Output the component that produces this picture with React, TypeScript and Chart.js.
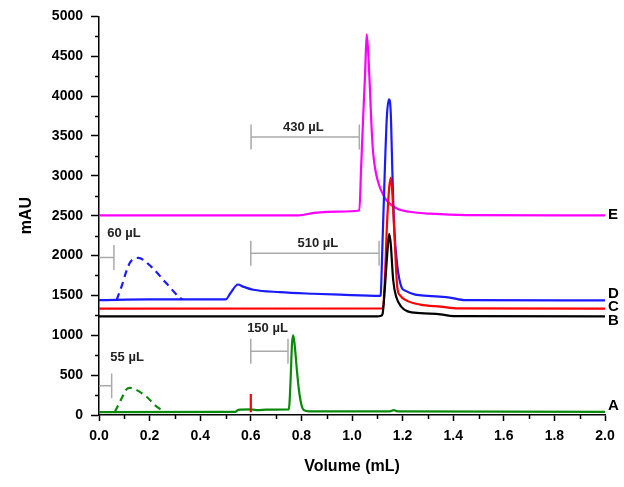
import React, { useEffect, useRef } from 'react';
import { Chart, registerables } from 'chart.js';
Chart.register(...registerables);

// Curve A (green, solid) and its dashed sample peak
const volA = [0, 0.54, 0.55, 0.6, 0.63, 0.66, 0.75, 0.753, 0.758, 0.763, 0.768, 0.774, 0.782, 0.79, 0.8, 0.81, 0.83, 1.15, 1.165, 1.18, 2.0];
const mauA = [35, 40, 65, 70, 60, 68, 70, 150, 500, 900, 1000, 860, 570, 320, 130, 60, 45, 45, 60, 45, 40];
const volAdash = [0.063, 0.09, 0.105, 0.12, 0.149, 0.188, 0.228, 0.255];
const mauAdash = [40, 212, 310, 340, 312, 229, 104, 50];
// Curve B (black)
const volB = [0, 1.1, 1.115, 1.121, 1.13, 1.14, 1.147, 1.153, 1.163, 1.175, 1.196, 1.22, 1.27, 1.35, 1.4, 2.0];
const mauB = [1237, 1237, 1245, 1270, 1600, 2050, 2271, 2150, 1687, 1480, 1354, 1300, 1279, 1262, 1240, 1237];
// Curve C (red)
const volC = [0, 1.122, 1.13, 1.137, 1.147, 1.154, 1.16, 1.167, 1.179, 1.19, 1.216, 1.27, 1.35, 1.42, 2.0];
const mauC = [1334, 1336, 1700, 2300, 2850, 2979, 2750, 2312, 1604, 1500, 1435, 1385, 1360, 1337, 1334];
// Curve D (blue, solid) and its dashed sample peak
const volD = [0, 0.2, 0.5, 0.52, 0.549, 0.57, 0.61, 0.715, 0.846, 0.953, 1.11, 1.113, 1.12, 1.13, 1.138, 1.146, 1.153, 1.16, 1.167, 1.178, 1.196, 1.21, 1.25, 1.3, 1.38, 1.45, 2.0];
const mauD = [1440, 1450, 1450, 1530, 1637, 1610, 1571, 1541, 1521, 1509, 1495, 1500, 2100, 3100, 3750, 3959, 3800, 3000, 2350, 1900, 1600, 1560, 1510, 1495, 1475, 1440, 1437];
const volDdash = [0.07, 0.09, 0.109, 0.123, 0.155, 0.208, 0.268, 0.32, 0.33];
const mauDdash = [1445, 1620, 1810, 1915, 1970, 1855, 1645, 1470, 1450];
// Curve E (magenta)
const volE = [0, 0.79, 0.85, 0.95, 1.029, 1.036, 1.045, 1.052, 1.058, 1.064, 1.07, 1.076, 1.082, 1.09, 1.1, 1.111, 1.124, 1.137, 1.177, 1.25, 1.308, 1.45, 2.0];
const mauE = [2505, 2505, 2535, 2552, 2565, 3100, 3800, 4300, 4775, 4550, 4150, 3700, 3350, 3120, 2960, 2850, 2760, 2690, 2590, 2540, 2525, 2508, 2505];
// Red injection marker
const markerVol = [0.6, 0.6];
const markerMau = [35, 262];

// Dimension brackets
const bracketText = ['430 µL', '510 µL', '60 µL', '55 µL', '150 µL'];
const bracketStart = [0.601, 0.6, 0, 0, 0.6];
const bracketEnd = [1.029, 1.107, 0.059, 0.05, 0.747];
const bracketLevel = [3487, 2029, 1975, 366, 800];
const bracketStartCap = [true, true, false, false, true];
const bracketCap = 156;
const bracketTextVol = [0.808, 0.865, 0.099, 0.111, 0.666];
const bracketTextMau = [3612, 2156, 2275, 725, 1087];

// Curve names at the right
const curveNames = ['E', 'D', 'C', 'B', 'A'];
const curveNameMau = [2510, 1525, 1362, 1175, 112];

// Axis ticks
const xMinorTicks = [0.1, 0.3, 0.5, 0.7, 0.9, 1.1, 1.3, 1.5, 1.7, 1.9];
const yMinorTicks = [250, 750, 1250, 1750, 2250, 2750, 3250, 3750, 4250, 4750];

const pts = (xs: number[], ys: number[]) => xs.map((x, i) => ({ x, y: ys[i] }));

const FONT = '"Liberation Sans", Arial, sans-serif';

const overlay = {
  id: 'overlay',
  afterDraw(chart: any) {
    const c = chart.ctx;
    const xs = chart.scales.x;
    const ys = chart.scales.y;
    const area = chart.chartArea;
    c.save();
    // minor ticks
    c.strokeStyle = '#000';
    c.lineWidth = 1.5;
    c.beginPath();
    xMinorTicks.forEach((v) => {
      const px = Math.round(xs.getPixelForValue(v)) + 0.5;
      c.moveTo(px, area.bottom);
      c.lineTo(px, area.bottom + 4);
    });
    yMinorTicks.forEach((v) => {
      const py = Math.round(ys.getPixelForValue(v)) + 0.5;
      c.moveTo(area.left - 4, py);
      c.lineTo(area.left, py);
    });
    c.stroke();
    // brackets
    c.strokeStyle = '#aaaaaa';
    c.lineWidth = 1.5;
    bracketText.forEach((t, i) => {
      const x0 = xs.getPixelForValue(bracketStart[i]);
      const x1 = xs.getPixelForValue(bracketEnd[i]);
      const y = ys.getPixelForValue(bracketLevel[i]);
      const yt = ys.getPixelForValue(bracketLevel[i] + bracketCap);
      const yb = ys.getPixelForValue(bracketLevel[i] - bracketCap);
      c.beginPath();
      c.moveTo(x0, y);
      c.lineTo(x1, y);
      c.moveTo(x1, yt);
      c.lineTo(x1, yb);
      if (bracketStartCap[i]) {
        c.moveTo(x0, yt);
        c.lineTo(x0, yb);
      }
      c.stroke();
      c.fillStyle = '#222';
      c.font = `bold 13px ${FONT}`;
      c.textAlign = 'center';
      c.textBaseline = 'middle';
      c.fillText(t, xs.getPixelForValue(bracketTextVol[i]), ys.getPixelForValue(bracketTextMau[i]));
    });
    // curve names
    c.fillStyle = '#000';
    c.font = `bold 15px ${FONT}`;
    c.textAlign = 'left';
    c.textBaseline = 'middle';
    curveNames.forEach((n, i) => {
      c.fillText(n, area.right + 3, ys.getPixelForValue(curveNameMau[i]));
    });
    c.restore();
  },
};

export default function App() {
  const ref = useRef<HTMLCanvasElement>(null);
  useEffect(() => {
    document.body.style.margin = '0';
    const line = (data: any, color: string, dash: number[] = []) => ({
      data,
      showLine: true,
      borderColor: color,
      backgroundColor: color,
      borderWidth: 2.2,
      borderDash: dash,
      pointRadius: 0,
      fill: false,
      cubicInterpolationMode: 'monotone',
    });
    const chart = new Chart(ref.current!, {
      type: 'scatter',
      data: {
        datasets: [
          line(pts(markerVol, markerMau), '#ff0000'),
          line(pts(volA, mauA), '#0a8a0a'),
          line(pts(volAdash, mauAdash), '#0a8a0a', [7, 5]),
          line(pts(volB, mauB), '#000000'),
          line(pts(volC, mauC), '#ff0000'),
          line(pts(volD, mauD), '#1a1aff'),
          line(pts(volDdash, mauDdash), '#1a1aff', [7, 5]),
          line(pts(volE, mauE), '#ff00ff'),
        ] as any,
      },
      options: {
        animation: false,
        responsive: false,
        layout: { padding: { left: 0, top: 15, right: 19, bottom: 0 } },
        plugins: { legend: { display: false }, tooltip: { enabled: false } },
        scales: {
          x: {
            type: 'linear',
            min: 0,
            max: 2,
            afterFit: (s: any) => { s.height = 72; },
            ticks: {
              stepSize: 0.2,
              callback: (v: any) => Number(v).toFixed(1),
              font: { family: FONT, size: 14, weight: 'bold' },
              color: '#000',
              padding: 7,
              maxRotation: 0,
            },
            grid: { drawOnChartArea: false, drawTicks: true, tickLength: 6, color: '#000', tickWidth: 1.5 },
            border: { display: true, color: '#000', width: 1.5 },
            title: {
              display: true,
              text: 'Volume (mL)',
              font: { family: FONT, size: 16, weight: 'bold' },
              color: '#000',
              padding: { top: 0, bottom: 11 },
            },
          },
          y: {
            type: 'linear',
            min: 0,
            max: 5000,
            afterFit: (s: any) => { s.width = 99; },
            ticks: {
              stepSize: 500,
              callback: (v: any) => String(Math.round(Number(v))),
              font: { family: FONT, size: 14, weight: 'bold' },
              color: '#000',
              padding: 8,
            },
            grid: { drawOnChartArea: false, drawTicks: true, tickLength: 8, color: '#000', tickWidth: 1.5 },
            border: { display: true, color: '#000', width: 1.5 },
            title: {
              display: true,
              text: 'mAU',
              font: { family: FONT, size: 16, weight: 'bold' },
              color: '#000',
              padding: { top: 17, bottom: 0 },
            },
          },
        },
      } as any,
      plugins: [overlay],
    });
    return () => chart.destroy();
  }, []);
  return (
    <div style={{ width: 624, height: 487 }}>
      <canvas ref={ref} width={624} height={487} style={{ display: 'block' }} />
    </div>
  );
}
